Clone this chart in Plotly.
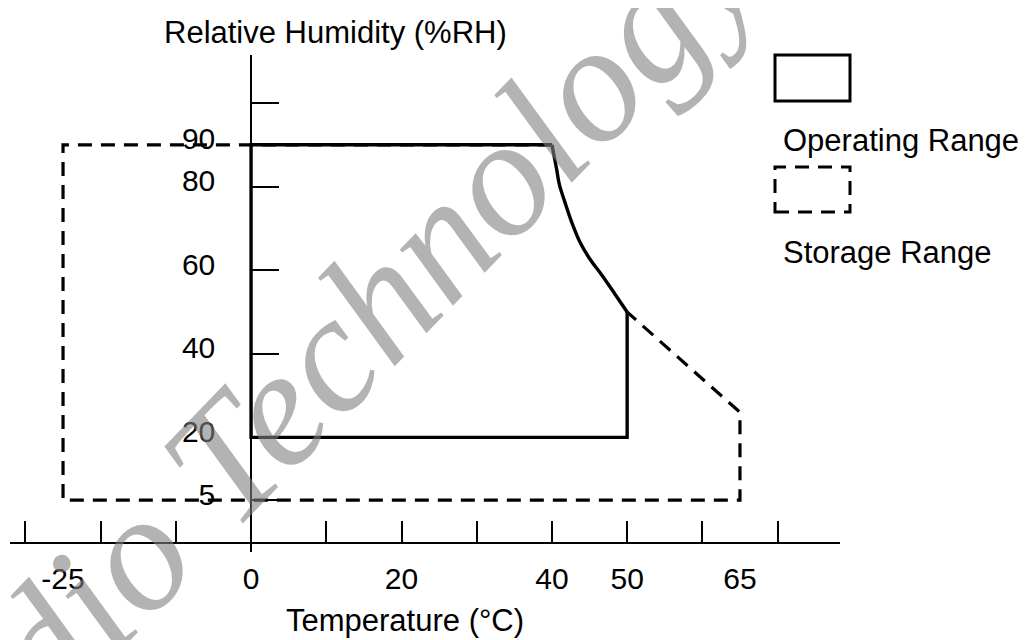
import plotly.graph_objects as go

# ---- data ----
OPER_T = [40, 0, 0, 50, 50]
OPER_RH = [90, 90, 20, 20, 50]
CURVE_T = [40, 40.6, 41.0, 41.7, 42.6, 43.7, 45.0, 46.6, 48.3, 50]
CURVE_RH = [90, 84.4, 80.4, 76.4, 71.6, 66.8, 62.8, 58.9, 54.5, 50]
STOR_T = [40, -25, -25, 65, 65, 50]
STOR_RH = [90, 90, 5, 5, 26, 50]

X_TICK_MARKS = [-30, -20, -10, 0, 10, 20, 30, 40, 50, 60, 70]
X_LABEL_VALS = [-25, 0, 20, 40, 50, 65]
X_LABEL_TEXT = ["-25", "0", "20", "40", "50", "65"]
Y_TICK_VALS = [5, 20, 40, 60, 80, 90, 100]
Y_TICK_TEXT = ["5", "20", "40", "60", "80", "90", ""]

FONT = "Liberation Sans, Arial, sans-serif"
FS_TICK = 30
FS_TEXT = 31
X_RANGE = [-32.05, 78.3]
Y_RANGE = [-7.42, 111.48]

fig = go.Figure()
fig.add_trace(go.Scatter(x=STOR_T, y=STOR_RH, mode="lines",
                         line=dict(color="black", width=3.2, dash="14px,9px"),
                         hoverinfo="skip"))
fig.add_trace(go.Scatter(x=OPER_T, y=OPER_RH, mode="lines",
                         line=dict(color="black", width=3.4),
                         hoverinfo="skip"))
fig.add_trace(go.Scatter(x=CURVE_T, y=CURVE_RH, mode="lines",
                         line=dict(color="black", width=3.4, shape="spline", smoothing=1),
                         hoverinfo="skip"))

PAGE_OFF = 8  # page body margin in the browser
W, H = 1026, 640
L, T = 10 - PAGE_OFF, 55 - PAGE_OFF
pw, ph = 830, 497
R, B = W - L - pw, H - T - ph

def px2paper_x(px):
    return (px - PAGE_OFF - L) / pw

def px2paper_y(py):
    return (H - B - (py - PAGE_OFF)) / ph

x_axis_pos = px2paper_y(543)
y_axis_pos = (0 - X_RANGE[0]) / (X_RANGE[1] - X_RANGE[0])

fig.update_layout(
    width=W, height=H,
    margin=dict(l=L, r=R, t=T, b=B, autoexpand=False),
    paper_bgcolor="white", plot_bgcolor="white",
    showlegend=False,
    font=dict(family=FONT, size=FS_TEXT, color="black"),
    xaxis=dict(range=X_RANGE, anchor="free", position=x_axis_pos, automargin=False,
               showline=True, linecolor="black", linewidth=1.6,
               ticks="inside", ticklen=21, tickwidth=1.6, tickcolor="black",
               tickmode="array", tickvals=X_TICK_MARKS, showticklabels=False,
               showgrid=False, zeroline=False, fixedrange=True),
    xaxis2=dict(range=X_RANGE, overlaying="x", anchor="free", position=x_axis_pos,
                automargin=False, showline=False, ticks="", tickmode="array",
                tickvals=X_LABEL_VALS, ticktext=X_LABEL_TEXT,
                ticklabelstandoff=15, showgrid=False, zeroline=False,
                tickfont=dict(family=FONT, size=FS_TICK, color="black")),
    yaxis=dict(range=Y_RANGE, anchor="free", position=y_axis_pos, automargin=False,
               showline=True, linecolor="black", linewidth=1.6,
               ticks="inside", ticklen=27, tickwidth=1.6, tickcolor="black",
               tickmode="array", tickvals=Y_TICK_VALS, ticktext=Y_TICK_TEXT,
               ticklabelstandoff=29, ticklabelshift=-6,
               showgrid=False, zeroline=False,
               tickfont=dict(family=FONT, size=FS_TICK, color="black")),
)
# dummy trace to activate xaxis2
fig.add_trace(go.Scatter(x=[None], y=[None], xaxis="x2", showlegend=False))

# legend boxes (shapes) and labels
fig.add_shape(type="rect", xref="paper", yref="paper",
              x0=px2paper_x(775), x1=px2paper_x(850),
              y0=px2paper_y(101), y1=px2paper_y(55),
              line=dict(color="black", width=3))
fig.add_shape(type="rect", xref="paper", yref="paper",
              x0=px2paper_x(775), x1=px2paper_x(850),
              y0=px2paper_y(212), y1=px2paper_y(167),
              line=dict(color="black", width=3, dash="14px,9px"))

ann = [
    dict(text="Operating Range", x=px2paper_x(781), y=px2paper_y(140), xanchor="left"),
    dict(text="Storage Range", x=px2paper_x(781), y=px2paper_y(252), xanchor="left"),
    dict(text="Relative Humidity (%RH)", x=px2paper_x(335), y=px2paper_y(32), xanchor="center"),
    dict(text="Temperature (°C)", x=px2paper_x(405), y=px2paper_y(620), xanchor="center"),
]
for a in ann:
    fig.add_annotation(xref="paper", yref="paper", yanchor="middle", showarrow=False,
                       font=dict(family=FONT, size=FS_TEXT, color="black"), **a)

# watermark
fig.add_annotation(text="Radio Technology", xref="paper", yref="paper",
                   x=px2paper_x(304), y=px2paper_y(378), xanchor="center", yanchor="middle",
                   textangle=-46, showarrow=False,
                   font=dict(family="Liberation Serif, Times New Roman, serif", size=168,
                             color="rgba(128,128,128,0.6)", style="italic"))

fig.write_html("out.html")
